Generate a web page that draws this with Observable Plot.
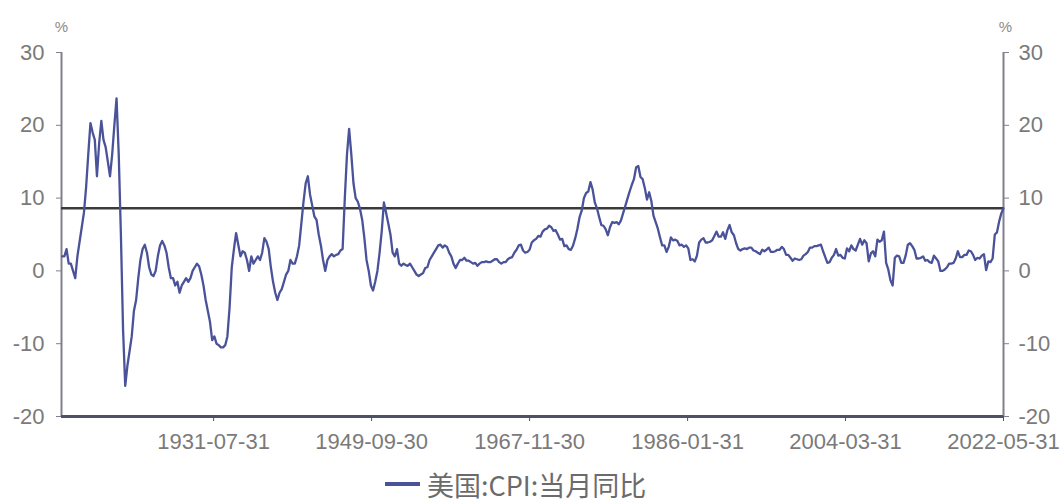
<!DOCTYPE html>
<html>
<head>
<meta charset="utf-8">
<script src="https://cdn.jsdelivr.net/npm/d3@7"></script>
<script src="https://cdn.jsdelivr.net/npm/@observablehq/plot@0.6"></script>
<style>
  html, body { margin: 0; padding: 0; background: #fff; }
  #wrap { position: relative; width: 1064px; height: 502px; overflow: hidden; }
  #legend {
    position: absolute; left: 385px; top: 466px; height: 36px;
    display: flex; align-items: center;
    font-family: "Noto Sans CJK SC", "Noto Sans", sans-serif; font-size: 27px; color: #6b6b6b;
  }
  #legend .swatch { display: inline-block; width: 35px; height: 4px; background: #4a5299; margin-right: 7px; }
</style>
</head>
<body>
<div id="wrap">
  <div id="chart"></div>
  <div id="legend"><span class="swatch"></span><span id="legend-text"></span></div>
</div>
<script>
// US CPI, year-over-year change (%), quarterly readings (Feb, May, Aug, Nov), Feb 1914 onward
const cpi1914to1929 = [
  2.0, 2.0, 3.0, 1.0,      // 1914
  1.0, 0.0, -1.0, 2.0,     // 1915
  4.0, 6.0, 8.0, 11.5,     // 1916
  16.0, 20.3, 19.0, 18.0,  // 1917
  13.0, 17.5, 20.6, 18.0,  // 1918
  17.0, 15.0, 13.0, 16.0,  // 1919
  20.0, 23.7, 16.0, 5.0,   // 1920
  -8.0, -15.8, -13.0, -11.0, // 1921
  -9.0, -5.5, -4.0, -1.0,  // 1922
  1.5, 3.0, 3.6, 2.5,      // 1923
  0.5, -0.5, -0.7, 0.0,    // 1924
  2.0, 3.5, 4.1, 3.5,      // 1925
  2.5, 0.5, -1.0, -1.0,    // 1926
  -2.0, -1.5, -3.0, -2.0,  // 1927
  -1.5, -1.0, -1.5, -1.0,  // 1928
  0.0, 0.5, 1.0, 0.6       // 1929
];
const cpi1930to1949 = [
  -0.5, -2.0, -4.0, -5.5,  // 1930
  -7.0, -9.5, -9.0, -10.0, // 1931
  -10.2, -10.5, -10.5, -10.2, // 1932
  -9.0, -5.0, 0.5, 3.0,    // 1933
  5.2, 3.6, 2.0, 2.7,      // 1934
  2.5, 1.5, 0.0, 2.0,      // 1935
  1.0, 1.5, 2.0, 1.5,      // 1936
  2.5, 4.5, 4.0, 3.0,      // 1937
  0.5, -1.5, -3.0, -4.0,   // 1938
  -3.0, -2.5, -1.5, -0.5,  // 1939
  0.0, 1.5, 1.0, 1.0,      // 1940
  2.0, 3.5, 6.5, 9.5,      // 1941
  12.0, 13.0, 10.5, 9.0,   // 1942
  7.5, 7.0, 5.0, 3.5,      // 1943
  1.5, 0.0, 1.5, 2.0,      // 1944
  2.3, 2.0, 2.2, 2.3,      // 1945
  2.8, 3.0, 10.0, 16.0,    // 1946
  19.5, 16.0, 12.0, 10.0,  // 1947
  9.5, 8.5, 7.0, 4.5,      // 1948
  1.5, 0.0, -2.0, -2.7     // 1949
];
const cpi1950to1969 = [
  -1.5, 0.0, 2.5, 5.5,     // 1950
  9.4, 8.0, 6.5, 5.0,      // 1951
  2.5, 2.0, 3.0, 1.0,      // 1952
  0.7, 1.0, 0.8, 0.7,      // 1953
  1.0, 0.5, 0.0, -0.5,     // 1954
  -0.7, -0.5, -0.3, 0.4,   // 1955
  0.5, 1.5, 2.0, 2.5,      // 1956
  3.0, 3.5, 3.6, 3.2,      // 1957
  3.5, 3.3, 2.5, 2.0,      // 1958
  1.0, 0.4, 1.0, 1.5,      // 1959
  1.5, 1.8, 1.4, 1.4,      // 1960
  1.2, 1.0, 1.1, 0.7,      // 1961
  1.0, 1.2, 1.2, 1.3,      // 1962
  1.2, 1.2, 1.4, 1.6,      // 1963
  1.6, 1.2, 1.0, 1.2,      // 1964
  1.2, 1.6, 1.8, 1.9,      // 1965
  2.5, 2.9, 3.5, 3.6,      // 1966
  2.8, 2.5, 2.6, 2.9,      // 1967
  3.9, 4.2, 4.4, 4.8,      // 1968
  4.7, 5.4, 5.7, 5.8       // 1969
];
const cpi1970to1989 = [
  6.2, 6.0, 5.5, 5.6,      // 1970
  5.0, 4.3, 4.4, 3.4,      // 1971
  3.5, 3.0, 2.9, 3.5,      // 1972
  4.5, 5.8, 7.4, 8.3,      // 1973
  10.0, 10.7, 10.9, 12.2,  // 1974
  11.2, 9.4, 8.6, 7.4,     // 1975
  6.3, 6.2, 5.7, 4.9,      // 1976
  6.0, 6.7, 6.6, 6.7,      // 1977
  6.4, 6.9, 7.9, 8.9,      // 1978
  9.9, 10.9, 11.8, 12.6,   // 1979
  14.2, 14.4, 12.9, 12.6,  // 1980
  11.4, 9.8, 10.8, 9.6,    // 1981
  7.6, 6.7, 5.8, 4.6,      // 1982
  3.5, 3.5, 2.6, 3.3,      // 1983
  4.6, 4.2, 4.3, 4.1,      // 1984
  3.5, 3.6, 3.3, 3.5,      // 1985
  3.1, 1.5, 1.6, 1.3,      // 1986
  2.1, 3.9, 4.3, 4.5,      // 1987
  3.9, 3.9, 4.0, 4.2,      // 1988
  4.8, 5.4, 4.7, 4.7       // 1989
];
const cpi1990to2009 = [
  5.3, 4.4, 5.6, 6.3,      // 1990
  5.3, 4.9, 3.8, 3.0,      // 1991
  2.8, 3.0, 3.1, 3.0,      // 1992
  3.2, 3.2, 2.8, 2.7,      // 1993
  2.5, 2.3, 2.9, 2.7,      // 1994
  2.9, 3.2, 2.6, 2.6,      // 1995
  2.7, 2.9, 2.9, 3.3,      // 1996
  3.0, 2.2, 2.2, 1.8,      // 1997
  1.4, 1.7, 1.6, 1.5,      // 1998
  1.6, 2.1, 2.3, 2.6,      // 1999
  3.2, 3.2, 3.4, 3.4,      // 2000
  3.5, 3.6, 2.7, 1.9,      // 2001
  1.1, 1.2, 1.8, 2.2,      // 2002
  3.0, 2.1, 2.2, 1.8,      // 2003
  1.7, 3.1, 2.7, 3.5,      // 2004
  3.0, 2.8, 3.6, 4.4,      // 2005
  3.6, 4.2, 3.8, 1.3,      // 2006
  2.4, 2.7, 2.0, 4.3,      // 2007
  4.0, 4.2, 5.4, 1.1,      // 2008
  0.2, -1.3, -2.0, 1.8     // 2009
];
const cpi2010to2022 = [
  2.1, 2.0, 1.1, 1.1,      // 2010
  2.1, 3.6, 3.8, 3.4,      // 2011
  2.9, 1.7, 1.7, 1.8,      // 2012
  2.0, 1.4, 1.5, 1.2,      // 2013
  1.1, 2.1, 1.7, 1.3,      // 2014
  0.0, 0.0, 0.2, 0.5,      // 2015
  1.0, 1.0, 1.1, 1.7,      // 2016
  2.7, 1.9, 1.9, 2.2,      // 2017
  2.2, 2.8, 2.7, 2.2,      // 2018
  1.5, 1.8, 1.7, 2.1,      // 2019
  2.3, 0.1, 1.3, 1.2,      // 2020
  1.7, 5.0, 5.3, 6.8,      // 2021
  7.9, 8.6                 // 2022
];

const xTickLabels = ["1931-07-31", "1949-09-30", "1967-11-30", "1986-01-31", "2004-03-31", "2022-05-31"];
const yTicks = [-20, -10, 0, 10, 20, 30];
const xStartLabel = "1914-01-31";
const seriesName = "美国:CPI:当月同比";
const unitLabel = "%";

const parseDay = d3.utcParse("%Y-%m-%d");
const formatDay = d3.utcFormat("%Y-%m-%d");

// Each reading is stamped at the end of its month: Feb 1914, May 1914, ...
const values = [].concat(cpi1914to1929, cpi1930to1949, cpi1950to1969, cpi1970to1989, cpi1990to2009, cpi2010to2022);
const firstMonth = Date.UTC(1914, 2, 1);
const data = values.map((v, i) => ({
  date: d3.utcDay.offset(d3.utcMonth.offset(new Date(firstMonth), 3 * i), -1),
  value: v
}));

const xTicks = xTickLabels.map(parseDay);
const xDomain = [parseDay(xStartLabel), xTicks[xTicks.length - 1]];
const latest = values[values.length - 1];

const fontFamily = "'Liberation Sans', Arial, sans-serif";
const tickColor = "#7a7a7a";

const chart = Plot.plot({
  width: 1064,
  height: 466,
  marginLeft: 61,
  marginRight: 61,
  marginTop: 52,
  marginBottom: 50,
  style: { fontFamily, fontSize: "22px", color: tickColor, background: "#fff" },
  x: { type: "utc", domain: xDomain },
  y: { domain: [-20, 30] },
  marks: [
    // left and right axis lines
    Plot.ruleX([xDomain[0]], { stroke: "#80808c", strokeWidth: 2 }),
    Plot.ruleX([xDomain[1]], { stroke: "#80808c", strokeWidth: 2 }),
    // latest reading as a horizontal reference
    Plot.ruleY([latest], { stroke: "#3a3a3a", strokeWidth: 2.5 }),
    Plot.line(data, { x: "date", y: "value", stroke: "#4a5299", strokeWidth: 2.3, strokeLinejoin: "round" }),
    // bottom axis line
    Plot.ruleY([-20], { stroke: "#4e5168", strokeWidth: 3 }),
    Plot.axisY({ anchor: "left", ticks: yTicks, tickSize: 5, tickPadding: 12, label: null, stroke: "#80808c", tickFormat: d => String(d) }),
    Plot.axisY({ anchor: "right", ticks: yTicks, tickSize: 5, tickPadding: 10, label: null, stroke: "#80808c", tickFormat: d => String(d) }),
    Plot.axisX({ ticks: xTicks, tickSize: 5, tickPadding: 12, tickFormat: formatDay, label: null, stroke: "#4e5168" }),
    // unit labels above each y axis
    Plot.text([unitLabel], { frameAnchor: "top-left", dx: 0, dy: -31, fontSize: 15, fill: "#8a8a8a", textAnchor: "middle" }),
    Plot.text([unitLabel], { frameAnchor: "top-right", dx: 2, dy: -31, fontSize: 15, fill: "#8a8a8a", textAnchor: "middle" })
  ]
});

document.getElementById("chart").appendChild(chart);
document.getElementById("legend-text").textContent = seriesName;
</script>
</body>
</html>
